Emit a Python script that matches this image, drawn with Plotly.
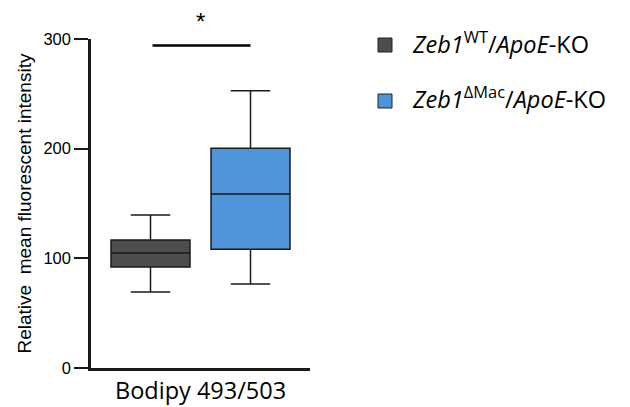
import plotly.graph_objects as go

groups = ["Zeb1WT/ApoE-KO", "Zeb1ΔMac/ApoE-KO"]
legend_labels = ["<i>Zeb1</i><sup>WT</sup>/<i>ApoE</i>-KO",
                 "<i>Zeb1</i><sup>ΔMac</sup>/<i>ApoE</i>-KO"]
positions = [0, 1]
q1 = [92.1, 108.2]
median = [104.8, 158.6]
q3 = [116.7, 200.3]
lowerfence = [69.3, 76.6]
upperfence = [139.5, 252.8]
fills = ["#4d4d4d", "#4f93d8"]
yticks = [0, 100, 200, 300]
category_label = "Bodipy 493/503"
y_title = "Relative  mean fluorescent intensity"
sig_label = "*"

fig = go.Figure()
for i in range(2):
    fig.add_trace(go.Box(
        x=[positions[i]], q1=[q1[i]], median=[median[i]], q3=[q3[i]],
        lowerfence=[lowerfence[i]], upperfence=[upperfence[i]],
        width=0.79, whiskerwidth=0.5, fillcolor=fills[i],
        line=dict(color="#1a1a1a", width=1.5), boxpoints=False,
        name=groups[i], showlegend=False, hoverinfo="skip"))

# significance bar
fig.add_shape(type="line", x0=0.02, x1=1.0, y0=294, y1=294, xref="x", yref="y",
              line=dict(color="black", width=2.5))
fig.add_annotation(x=(200 - 91) / 219, y=(368 - 22) / 329, xref="paper", yref="paper",
                   text=sig_label, showarrow=False, yanchor="middle",
                   font=dict(family="Liberation Sans", size=24, color="black"))

# y title
fig.add_annotation(x=(24 - 91) / 219, y=0.5, xref="paper", yref="paper", text=y_title,
                   textangle=-90, showarrow=False, xanchor="center", yanchor="middle",
                   font=dict(family="Liberation Sans", size=19, color="black"))

# x category label
fig.add_annotation(x=0.5, y=(368 - 390) / 329, xref="paper", yref="paper", text=category_label,
                   showarrow=False, xanchor="center", yanchor="middle",
                   font=dict(family="Open Sans", size=23.5, color="black"))

# legend
sq_y = [(38, 52), (94, 108)]
txt_y = [42, 97]
for i in range(2):
    fig.add_shape(type="rect", xref="paper", yref="paper",
                  x0=(378 - 91) / 219, x1=(392 - 91) / 219,
                  y0=(368 - sq_y[i][1]) / 329, y1=(368 - sq_y[i][0]) / 329,
                  fillcolor=fills[i], line=dict(color="#222", width=1))
    fig.add_annotation(x=(410 - 91) / 219, y=(368 - txt_y[i]) / 329, xref="paper", yref="paper",
                       xanchor="left", yanchor="middle", text=legend_labels[i], showarrow=False,
                       font=dict(family="Open Sans", size=23.5, color="black"))

fig.update_layout(
    width=630, height=407, margin=dict(l=91, r=320, t=39, b=39, autoexpand=False),
    plot_bgcolor="white", paper_bgcolor="white",
    xaxis=dict(range=[-0.595, 1.595], showline=True, linecolor="#1a1a1a", linewidth=2.5,
               showticklabels=False, ticks="", showgrid=False, zeroline=False, automargin=False),
    yaxis=dict(range=[0, 300], tickvals=yticks, showline=True, linecolor="#1a1a1a", linewidth=2.5,
               ticks="outside", ticklen=14, tickwidth=2, tickcolor="#1a1a1a",
               showgrid=False, zeroline=False, automargin=False,
               tickfont=dict(family="Liberation Sans", size=16.5, color="black")),
)
fig.write_html("out.html")
